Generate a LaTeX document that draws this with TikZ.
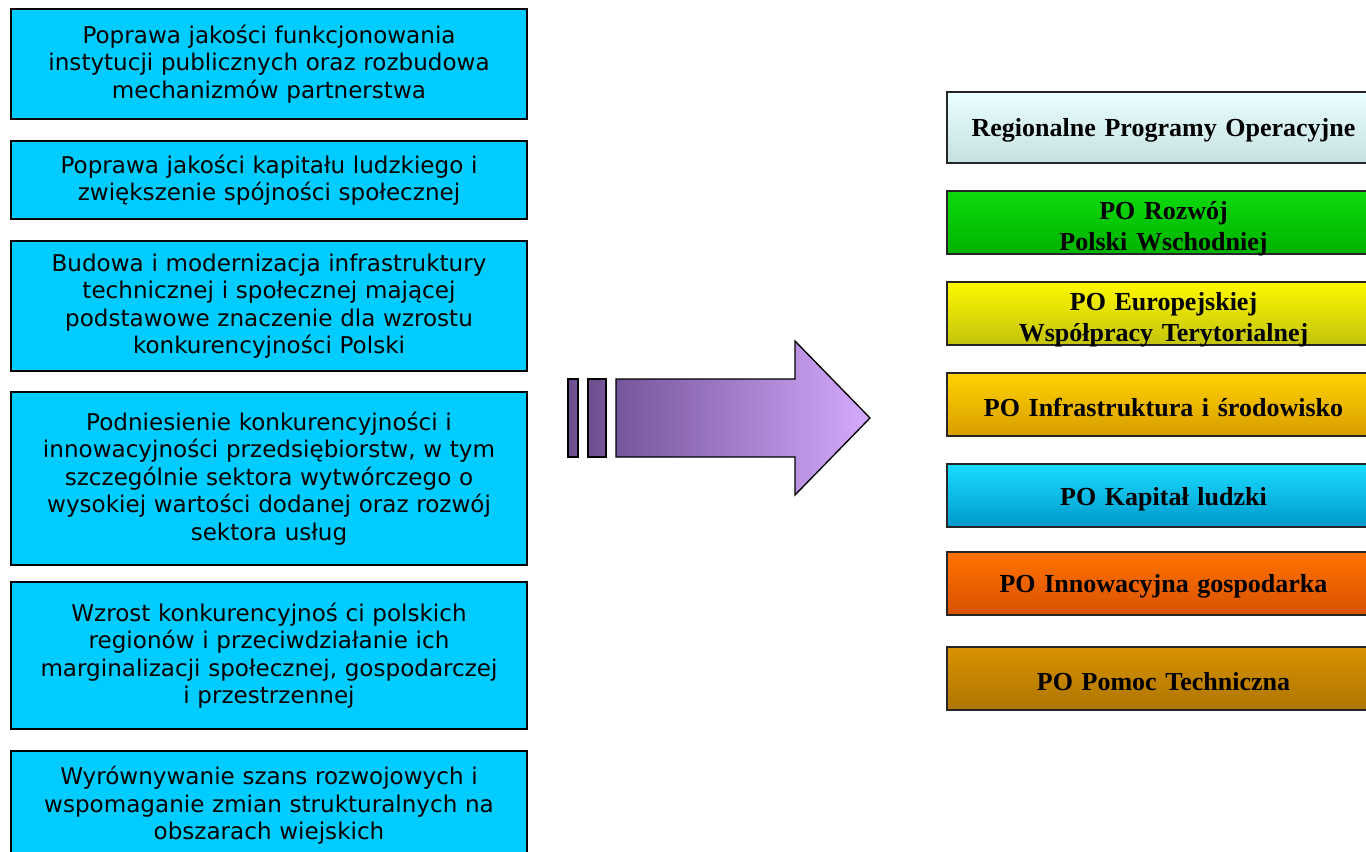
\documentclass[tikz,border=0pt]{standalone}
\usepackage{fontspec}
\setmainfont{Liberation Serif}
\newfontfamily\leftfont{DejaVu Sans}
\usetikzlibrary{positioning}
\definecolor{lcyan}{HTML}{00CCFF}
\definecolor{arrdark}{HTML}{76569A}
\definecolor{arrlight}{HTML}{D4AAFF}
\tikzset{
  goalbox/.style={draw=black, line width=1.3pt, fill=lcyan, minimum width=387pt,
    inner sep=0pt, align=center, text width=380pt,
    font=\leftfont\fontsize{17.3pt}{20.6pt}\selectfont},
  progbox/.style={draw=black!85, line width=1.3pt, minimum width=324.75pt, minimum height=47.25pt,
    inner sep=0pt},
  progtext/.style={inner sep=0pt, align=center, text width=320pt,
    font=\bfseries\fontsize{19.5pt}{23pt}\selectfont},
  arrpart/.style={draw=black, line width=1pt, left color=arrdark, right color=arrlight},
}
\begin{document}
\begin{tikzpicture}[x=0.75pt,y=-0.75pt]
\clip (0,0) rectangle (1366,852);
\fill[white] (0,0) rectangle (1366,852);
% left goals
\node[goalbox, minimum height=82.5pt] (l1) at (269,64)
  {Poprawa jakości funkcjonowania\\ instytucji publicznych oraz rozbudowa\\ mechanizmów partnerstwa};
\node[goalbox, minimum height=58.5pt] (l2) at (269,180)
  {Poprawa jakości kapitału ludzkiego i\\ zwiększenie spójności społecznej};
\node[goalbox, minimum height=97.5pt] (l3) at (269,306)
  {Budowa i modernizacja  infrastruktury\\ technicznej i społecznej mającej\\ podstawowe  znaczenie dla wzrostu\\ konkurencyjności Polski};
\node[goalbox, minimum height=129.75pt] (l4) at (269,478.5)
  {Podniesienie konkurencyjności i\\ innowacyjności przedsiębiorstw, w tym\\ szczególnie sektora wytwórczego o\\ wysokiej wartości dodanej oraz rozwój\\ sektora usług};
\node[goalbox, minimum height=110.25pt] (l5) at (269,655.5)
  {Wzrost konkurencyjnoś ci polskich\\ regionów i przeciwdziałanie ich\\ marginalizacji społecznej, gospodarczej\\ i przestrzennej};
\node[goalbox, minimum height=81.75pt] (l6) at (269,805.5)
  {Wyrównywanie szans  rozwojowych i\\ wspomaganie zmian strukturalnych na\\ obszarach wiejskich};
% arrow
\path[arrpart, left color=arrdark!90!black, right color=arrdark] (568,379) rectangle (578,457);
\path[arrpart, left color=arrdark!90!black, right color=arrdark] (588,379) rectangle (606,457);
\path[arrpart] (616,379) -- (795,379) -- (795,341) -- (870,418) -- (795,495) -- (795,457) -- (616,457) -- cycle;
% right programmes
\node[progbox, minimum height=53.25pt, top color=cyan!8, bottom color=cyan!30!gray!35] (r1) at (1163.5,127.5) {};
\node[progbox, top color=green!85!black!95, bottom color=green!70!black] (r2) at (1163.5,222.5) {};
\node[progbox, top color=yellow!95!orange, bottom color=yellow!75!black!95] (r3) at (1163.5,313.5) {};
\node[progbox, top color=orange!35!yellow, bottom color=orange!55!yellow!85!black] (r4) at (1163.5,404.5) {};
\node[progbox, top color=cyan!85!blue!90, bottom color=cyan!75!blue!80!black] (r5) at (1163.5,495.5) {};
\node[progbox, top color=orange!90!red, bottom color=orange!75!red!85!black] (r6) at (1163.5,583.5) {};
\node[progbox, top color=orange!65!yellow!85!black, bottom color=orange!65!yellow!68!black] (r7) at (1163.5,678.5) {};
\node[progtext] (t1) at ([yshift=-2.5pt]r1.center) {Regionalne Programy Operacyjne};
\node[progtext] (t2) at ([yshift=-4.5pt]r2.center) {PO Rozwój\\ Polski Wschodniej};
\node[progtext] (t3) at ([yshift=-4.5pt]r3.center) {PO Europejskiej\\ Współpracy Terytorialnej};
\node[progtext] (t4) at ([yshift=-2.5pt]r4.center) {PO Infrastruktura i środowisko};
\node[progtext] (t5) at ([yshift=-2.5pt]r5.center) {PO Kapitał ludzki};
\node[progtext] (t6) at ([yshift=-2.5pt]r6.center) {PO Innowacyjna gospodarka};
\node[progtext] (t7) at ([yshift=-2.5pt]r7.center) {PO Pomoc Techniczna};
\end{tikzpicture}
\end{document}
